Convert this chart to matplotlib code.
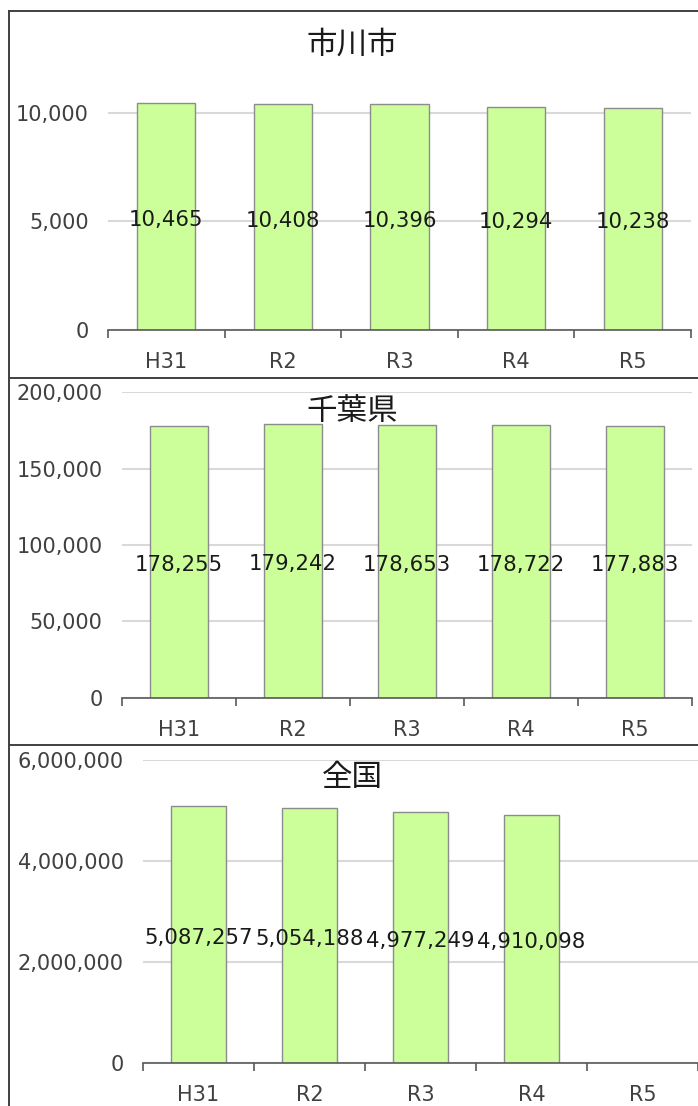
import matplotlib
matplotlib.use("Agg")
import matplotlib.pyplot as plt
from matplotlib.lines import Line2D
import numpy as np

plt.rcParams['font.family'] = ['DejaVu Sans', 'Noto Sans CJK JP']

categories = ["H31", "R2", "R3", "R4", "R5"]
ichikawa = [10465, 10408, 10396, 10294, 10238]
chiba = [178255, 179242, 178653, 178722, 177883]
zenkoku = [5087257, 5054188, 4977249, 4910098, None]
titles = ["市川市", "千葉県", "全国"]

W, H = 698, 1106
fig = plt.figure(figsize=(W / 100, H / 100), dpi=100)

def rect(l, t, r, b):
    return [l / W, 1 - b / H, (r - l) / W, (b - t) / H]

BAR = "#CCFF99"
EDGE = "#8C8C8C"
GRID = "#D9D9D9"
AXC = "#595959"
TXT = "#404040"

# panel borders
for y in [11, 378, 745]:
    fig.add_artist(Line2D([9 / W, 1], [1 - y / H, 1 - y / H], color="#404040", lw=1.4,
                          transform=fig.transFigure))
fig.add_artist(Line2D([9 / W, 9 / W], [0, 1 - 11 / H], color="#404040", lw=1.4,
                      transform=fig.transFigure))

panels = [
    dict(data=ichikawa, box=(108, 69.6, 691, 330), ylim=(0, 12000), ticks=[0, 5000, 10000],
         width=0.5, title_y=45),
    dict(data=chiba, box=(122, 392.3, 692, 697.7), ylim=(0, 200000),
         ticks=[0, 50000, 100000, 150000, 200000], width=0.51, title_y=411),
    dict(data=zenkoku, box=(143, 760, 698, 1063), ylim=(0, 6000000),
         ticks=[0, 2000000, 4000000, 6000000], width=0.5, title_y=778),
]

for p, title in zip(panels, titles):
    ax = fig.add_axes(rect(*p["box"]))
    x = np.arange(len(categories))
    vals = p["data"]
    xs = [xi for xi, v in zip(x, vals) if v is not None]
    vs = [v for v in vals if v is not None]
    ax.bar(xs, vs, width=p["width"], color=BAR, edgecolor=EDGE, linewidth=1, zorder=3)
    for xi, v in zip(xs, vs):
        ax.annotate(f"{v:,}", (xi, v / 2), xytext=(0, -2.5), textcoords="offset points",
                    ha="center", va="center", fontsize=15.3, color="#1A1A1A", zorder=4)
    ax.set_xlim(-0.5, len(categories) - 0.5)
    ax.set_ylim(*p["ylim"])
    ax.set_yticks(p["ticks"])
    ax.set_yticklabels([f"{t:,}" for t in p["ticks"]])
    ax.set_xticks(x)
    ax.set_xticklabels(categories)
    ax.set_xticks(np.arange(-0.5, len(categories)), minor=True)
    ax.tick_params(axis="x", which="major", length=0, pad=16, labelsize=15, labelcolor=TXT)
    ax.tick_params(axis="x", which="minor", length=6, width=1.2, color=AXC, direction="out")
    ax.tick_params(axis="y", length=0, pad=14, labelsize=15, labelcolor=TXT)
    ax.grid(axis="y", color=GRID, linewidth=1.5, zorder=0)
    for s in ["top", "right", "left"]:
        ax.spines[s].set_visible(False)
    ax.spines["bottom"].set_color(AXC)
    ax.spines["bottom"].set_linewidth(1.2)
    ax.spines["bottom"].set_zorder(5)
    ax.patch.set_alpha(0)
    fig.text(352 / W, 1 - p["title_y"] / H, title, ha="center", va="center",
             fontsize=22, color="#1A1A1A", family=["Noto Sans CJK JP"])

fig.savefig("out.png", dpi=100)
